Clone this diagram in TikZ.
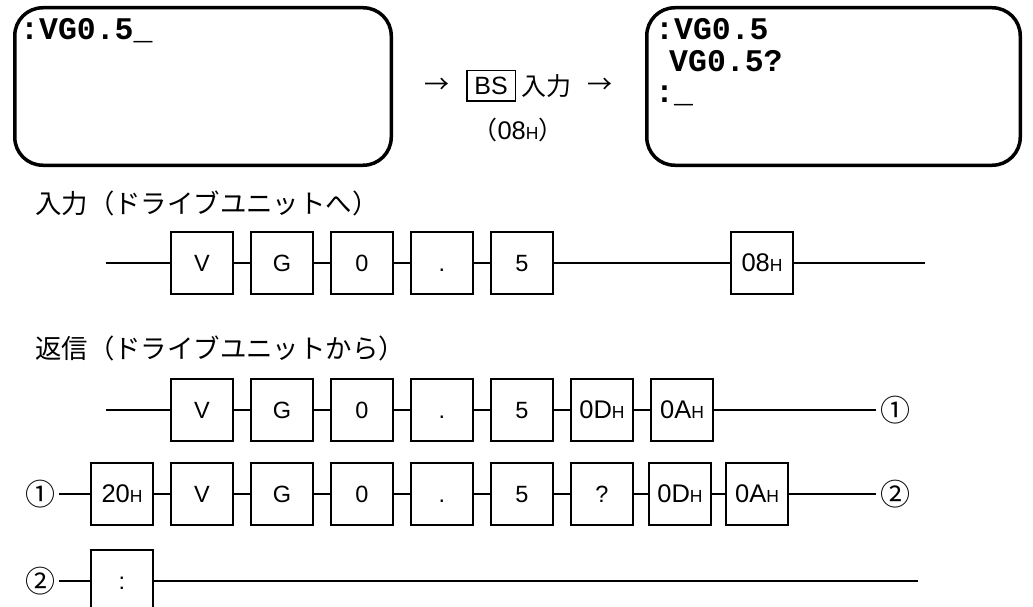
\documentclass[tikz,border=0pt]{standalone}
\usepackage{fontspec}
\setsansfont{Liberation Sans}
\setmonofont{Liberation Mono}
\newfontfamily\jpfont{Noto Sans CJK JP}
\usetikzlibrary{positioning}
\newcommand\hexh[1]{{\sffamily\fontsize{25.5}{25.5}\selectfont #1}{\sffamily\fontsize{17.5}{17.5}\selectfont H}}

\begin{document}
\begin{tikzpicture}[
  x=1pt, y=-1pt,
  node distance=16pt,
  screen/.style={draw, line width=3.5pt, rounded corners=28pt, minimum height=157.5pt},
  tty/.style={font=\ttfamily\bfseries\fontsize{31.5}{31.5}\selectfont, anchor=base west, inner sep=0pt},
  cell/.style={draw, line width=2pt, minimum size=62pt, inner sep=0pt, text height=16.5pt, text depth=0pt,
    font=\sffamily\fontsize{23.5}{23.5}\selectfont},
  keybox/.style={draw, line width=1.5pt, minimum width=48.5pt, minimum height=30.5pt, inner sep=0pt,
    font=\sffamily\fontsize{25}{25}\selectfont},
  jp/.style={font=\jpfont\fontsize{25}{25}\selectfont, inner sep=0pt},
  circnum/.style={font=\jpfont\fontsize{30}{30}\selectfont, inner sep=4pt},
  wire/.style={line width=2pt}
]
  \useasboundingbox (0,0) rectangle (1033,607);

  \node[screen, minimum width=376.5pt] (scrL) at (203,86.5) {};
  \node[screen, minimum width=373.5pt] (scrR) at (833.5,86.5) {};
  \node[tty] (txtL) at (20,40) {:VG0.5\_};
  \node[tty] (txtR1) at (655,40) {:VG0.5};
  \node[tty] (txtR2) at (669,72) {VG0.5?};
  \node[tty] (txtR3) at (655,103) {:\_};

  \node[keybox] (bskey) at (491,86) {BS};
  \node[jp, left=16pt of bskey] (arrL) {→};
  \node[jp, right=5pt of bskey] (keyin) {入力};
  \node[jp, right=16pt of keyin] (arrR) {→};
  \node[jp] (bscode) at (518,130) {（\hexh{08}）};

  \node[jp, anchor=west, font=\jpfont\fontsize{26.4}{26.4}\selectfont] (lblIn) at (35,203) {入力（ドライブユニットへ）};
  \node[jp, anchor=west, font=\jpfont\fontsize{26.4}{26.4}\selectfont] (lblOut) at (35,348) {返信（ドライブユニットから）};

  \coordinate (inS) at (106,263);
  \node[cell] (inV) at (202,263) {V};
  \node[cell, right=of inV] (inG) {G};
  \node[cell, right=of inG] (in0) {0};
  \node[cell, right=of in0] (inDot) {.};
  \node[cell, right=of inDot] (in5) {5};
  \node[cell, right=176pt of in5] (inBS) {\hexh{08}};
  \coordinate (inE) at (925,263);

  \coordinate (rAS) at (106,410);
  \node[cell] (rAV) at (202,410) {V};
  \node[cell, right=of rAV] (rAG) {G};
  \node[cell, right=of rAG] (rA0) {0};
  \node[cell, right=of rA0] (rADot) {.};
  \node[cell, right=of rADot] (rA5) {5};
  \node[cell, right=of rA5] (rACR) {\hexh{0D}};
  \node[cell, right=of rACR] (rALF) {\hexh{0A}};
  \node[circnum] (rAOut) at (895,410) {①};

  \node[circnum] (rBIn) at (40,494) {①};
  \node[cell] (rBSp) at (122,494) {\hexh{20}};
  \node[cell, right=of rBSp] (rBV) {V};
  \node[cell, right=of rBV] (rBG) {G};
  \node[cell, right=of rBG] (rB0) {0};
  \node[cell, right=of rB0] (rBDot) {.};
  \node[cell, right=of rBDot] (rB5) {5};
  \node[cell, right=of rB5] (rBQ) {?};
  \node[cell, right=14pt of rBQ] (rBCR) {\hexh{0D}};
  \node[cell, right=13pt of rBCR] (rBLF) {\hexh{0A}};
  \node[circnum] (rBOut) at (895,494) {②};

  \node[circnum] (rCIn) at (40,581) {②};
  \node[cell] (rCCol) at (122,581) {:};
  \coordinate (rCE) at (918,581);

  \foreach \a/\b in {inS/inV, inV/inG, inG/in0, in0/inDot, inDot/in5, in5/inBS, inBS/inE,
      rAS/rAV, rAV/rAG, rAG/rA0, rA0/rADot, rADot/rA5, rA5/rACR, rACR/rALF, rALF/rAOut,
      rBIn/rBSp, rBSp/rBV, rBV/rBG, rBG/rB0, rB0/rBDot, rBDot/rB5, rB5/rBQ, rBQ/rBCR, rBCR/rBLF, rBLF/rBOut,
      rCIn/rCCol, rCCol/rCE}
    \draw[wire] (\a) -- (\b);
\end{tikzpicture}
\end{document}
